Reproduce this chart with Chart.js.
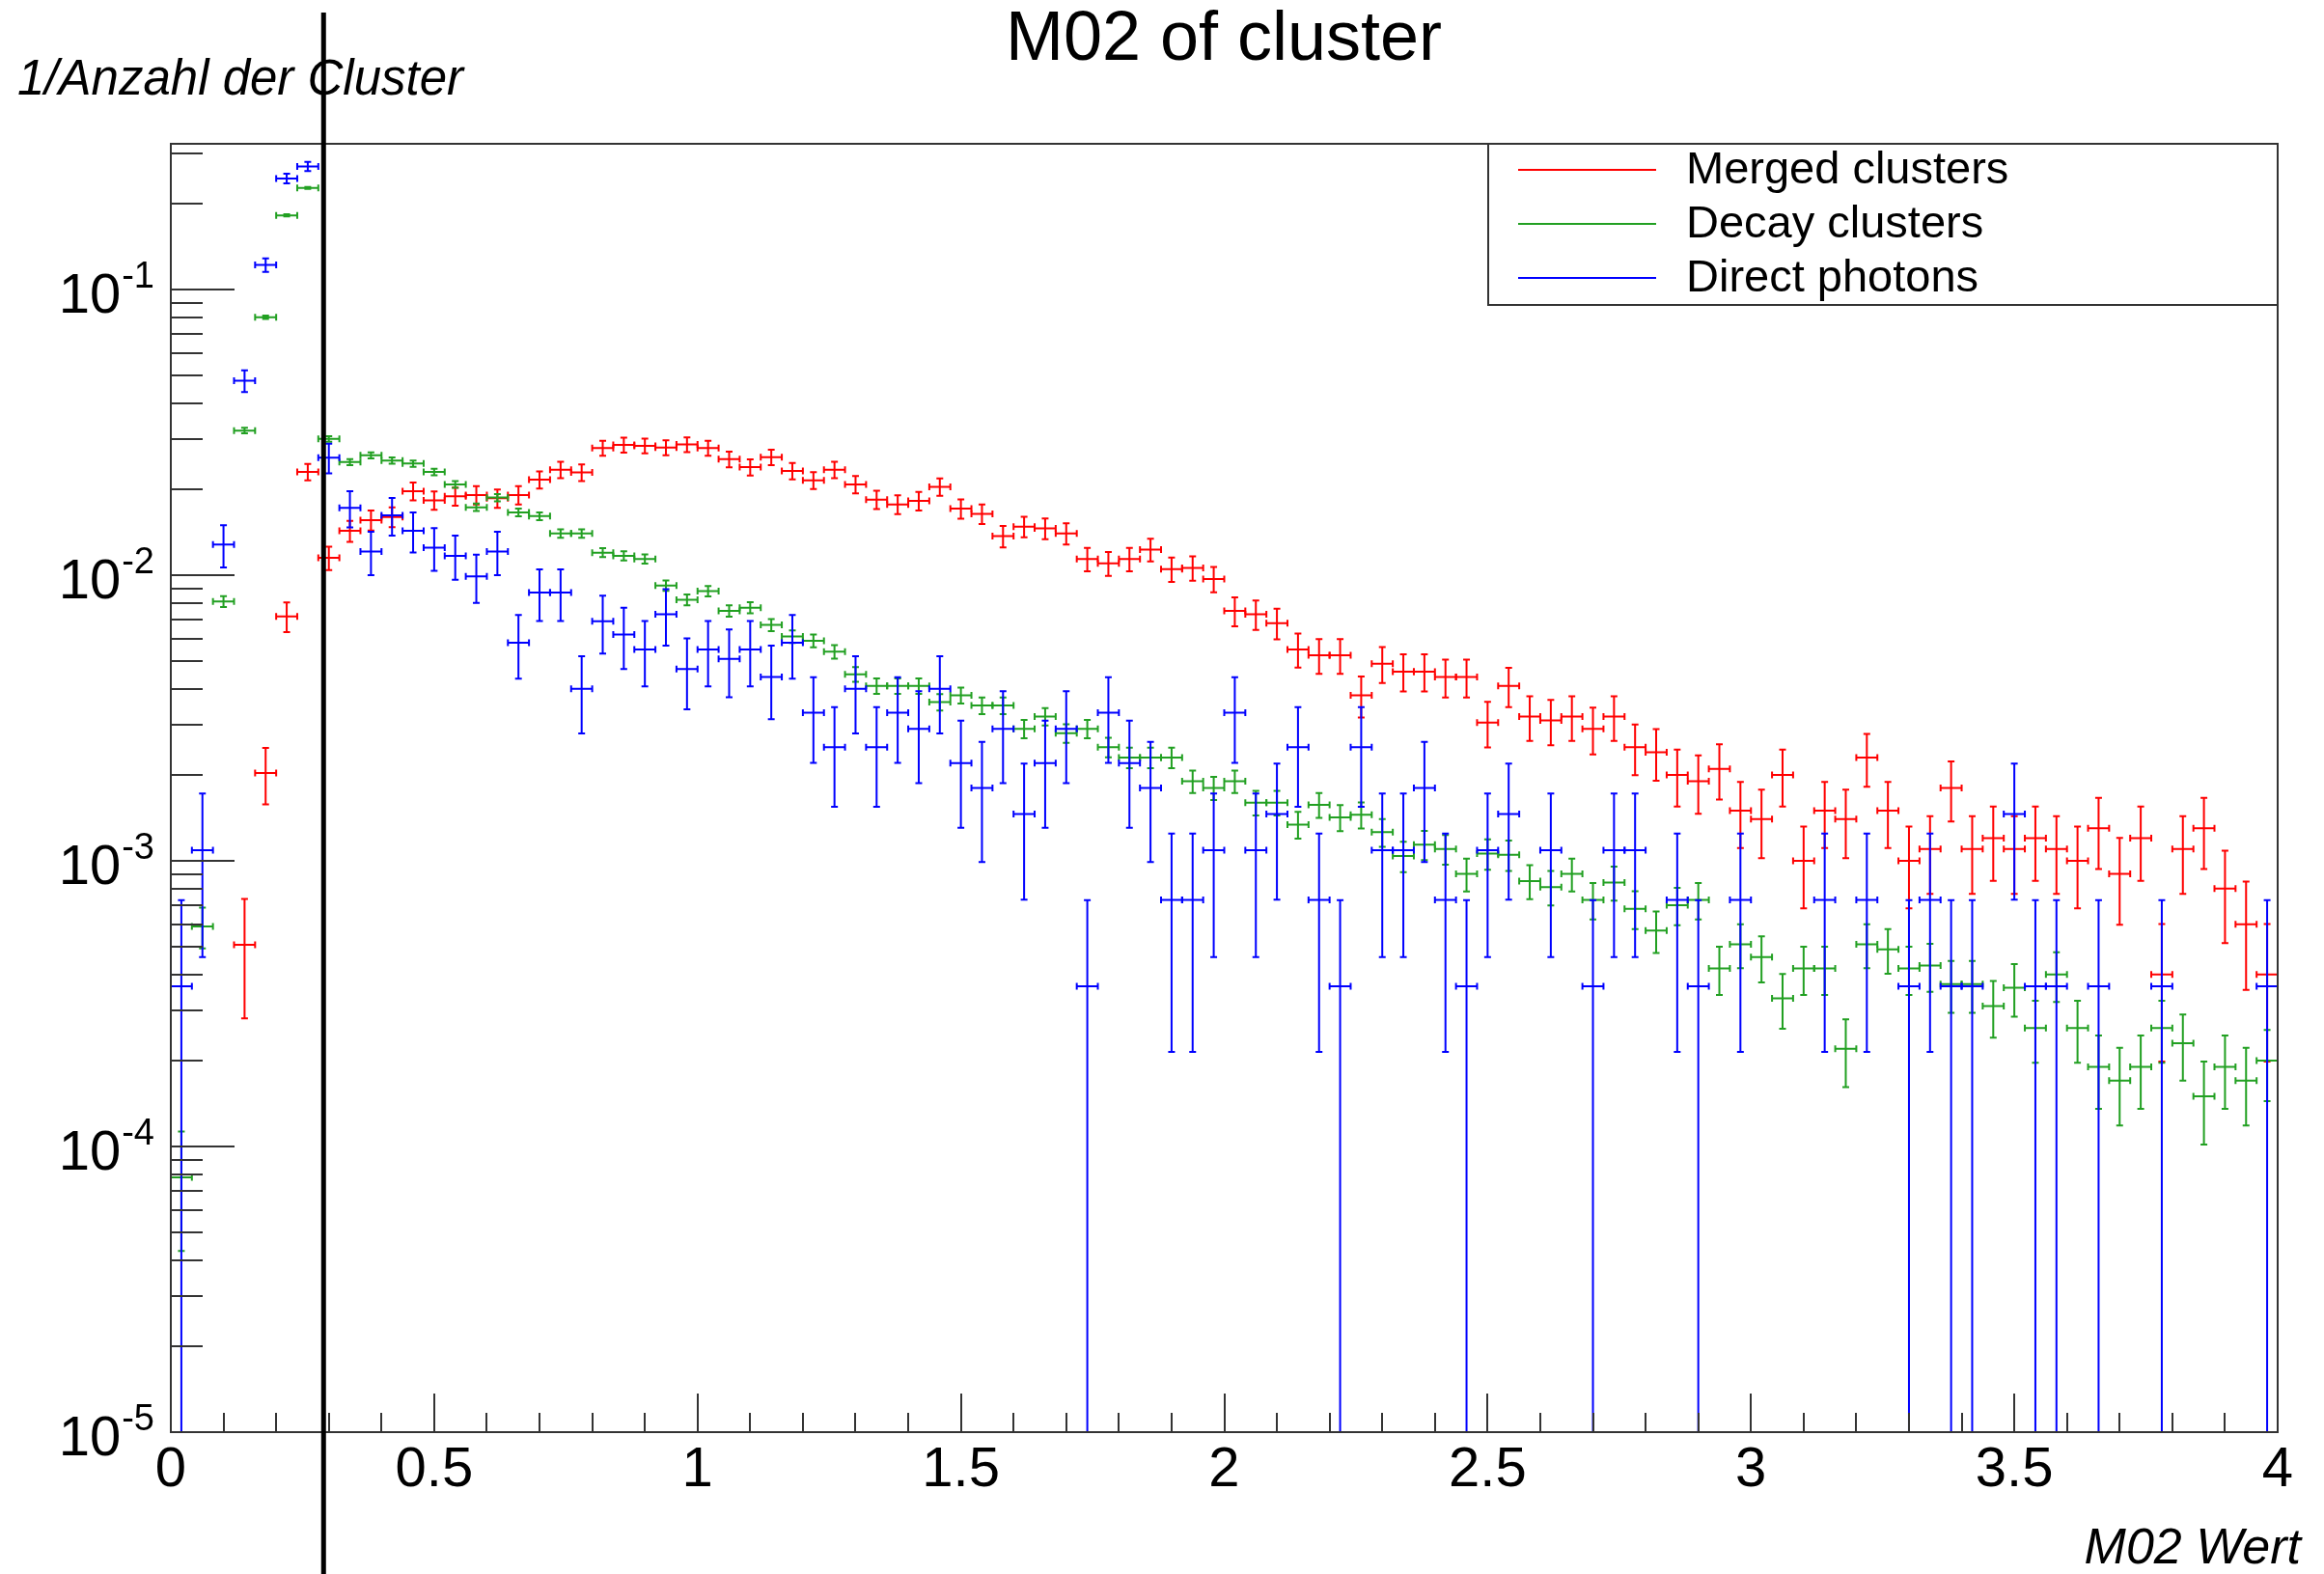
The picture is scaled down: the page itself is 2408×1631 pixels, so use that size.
<!DOCTYPE html>
<html><head><meta charset="utf-8">
<script src="https://cdn.jsdelivr.net/npm/chart.js@4/dist/chart.umd.min.js"></script>
<style>html,body{margin:0;padding:0;background:#fff;}canvas{display:block;}</style>
</head><body>
<canvas id="c" width="2408" height="1631" style="width:2408px;height:1631px"></canvas>
<script>
// ---- data (bin centres of the M02 histogram, normalised contents) ----
const binCenters = [
0.02,0.06,0.10,0.14,0.18,0.22,0.26,0.30,0.34,0.38,
0.42,0.46,0.50,0.54,0.58,0.62,0.66,0.70,0.74,0.78,
0.82,0.86,0.90,0.94,0.98,1.02,1.06,1.10,1.14,1.18,
1.22,1.26,1.30,1.34,1.38,1.42,1.46,1.50,1.54,1.58,
1.62,1.66,1.70,1.74,1.78,1.82,1.86,1.90,1.94,1.98,
2.02,2.06,2.10,2.14,2.18,2.22,2.26,2.30,2.34,2.38,
2.42,2.46,2.50,2.54,2.58,2.62,2.66,2.70,2.74,2.78,
2.82,2.86,2.90,2.94,2.98,3.02,3.06,3.10,3.14,3.18,
3.22,3.26,3.30,3.34,3.38,3.42,3.46,3.50,3.54,3.58,
3.62,3.66,3.70,3.74,3.78,3.82,3.86,3.90,3.94,3.98];

const mergedClusters = [
null,null,null,0.000508,0.00203,0.00718,0.0230,0.0115,0.0143,0.0156,
0.0160,0.0197,0.0183,0.0189,0.0191,0.0186,0.0191,0.0216,0.0234,0.0229,
0.0279,0.0286,0.0284,0.0280,0.0287,0.0279,0.0255,0.0239,0.0259,0.0232,
0.0215,0.0234,0.0208,0.0184,0.0177,0.0182,0.0204,0.0171,0.0164,0.0137,
0.0148,0.0146,0.0140,0.0114,0.0110,0.0114,0.0123,0.0105,0.0106,0.0097,
0.0075,0.0073,0.0068,0.0055,0.00525,0.00525,0.0038,0.0049,0.0046,0.0046,
0.0044,0.0044,0.00305,0.0041,0.0032,0.0031,0.0032,0.0029,0.0032,0.0025,
0.0024,0.0020,0.0019,0.0021,0.0015,0.0014,0.0020,0.0010,0.0015,0.0014,
0.0023,0.0015,0.0010,0.0011,0.0018,0.0011,0.0012,0.0011,0.0012,0.0011,
0.0010,0.0013,0.0009,0.0012,0.0004,0.0011,0.0013,0.0008,0.0006,0.0004];

const decayClusters = [
0.000078,0.00059,0.0081,0.0321,0.080,0.182,0.227,0.0300,0.0249,0.0263,
0.0252,0.0246,0.0230,0.0208,0.0173,0.0187,0.0166,0.0161,0.0140,0.0140,
0.0120,0.0117,0.0114,0.0092,0.0082,0.0088,0.0075,0.0077,0.0067,0.0061,
0.0059,0.0054,0.0045,0.0041,0.0041,0.0041,0.0036,0.0038,0.0035,0.0035,
0.0029,0.0032,0.0028,0.0029,0.0025,0.0023,0.0023,0.0023,0.0019,0.0018,
0.0019,0.0016,0.0016,0.00134,0.00157,0.00142,0.00145,0.00126,0.00104,0.00114,
0.00110,0.00090,0.00106,0.00105,0.00085,0.00081,0.00090,0.00073,0.00084,0.00068,
0.00057,0.00070,0.00073,0.00042,0.00051,0.00046,0.00033,0.00042,0.00042,0.00022,
0.00051,0.00049,0.00042,0.00043,0.00037,0.00037,0.00031,0.00036,0.00026,0.00040,
0.00026,0.00019,0.00017,0.00019,0.00026,0.00023,0.00015,0.00019,0.00017,0.00020];

const directPhotons = [
0.000364,0.00109,0.0128,0.048,0.122,0.245,0.270,0.0258,0.0172,0.0121,
0.0162,0.0143,0.0125,0.0117,0.0099,0.0121,0.0058,0.0087,0.0087,0.0040,
0.0069,0.0062,0.0055,0.0073,0.0047,0.0055,0.0051,0.0055,0.0044,0.0058,
0.0033,0.0025,0.0040,0.0025,0.0033,0.0029,0.0040,0.0022,0.0018,0.0029,
0.00146,0.0022,0.0029,0.000364,0.0033,0.0022,0.0018,0.00073,0.00073,0.00109,
0.0033,0.00109,0.00146,0.0025,0.00073,0.000364,0.0025,0.00109,0.00109,0.0018,
0.00073,0.000364,0.00109,0.00146,null,0.00109,null,0.000364,0.00109,0.00109,
null,0.00073,0.000364,null,0.00073,null,null,null,0.00073,null,
0.00073,null,0.000364,0.00073,0.000364,0.000364,null,0.00146,0.000364,0.000364,
null,0.000364,null,null,0.000364,null,null,null,null,0.000364];

const seriesLabels  = ['Merged clusters', 'Decay clusters', 'Direct photons'];
const seriesEntries = [9850, 64000, 2747];   // entries used for the Poisson error bars
const xTickLabels = ['0','0.5','1','1.5','2','2.5','3','3.5','4'];
const yTickExponents = [-5, -4, -3, -2, -1];
const cutValue = 0.29;
const chartTitle = 'M02 of cluster';
const xTitle = 'M02 Wert';
const yTitle = '1/Anzahl der Cluster';

// ---- styling ----
const COLORS = ['#ff0000', '#22a022', '#0000ff'];
const FONT = '"Liberation Sans", Arial, Helvetica, sans-serif';
const halfBin = (binCenters[1] - binCenters[0]) / 2;

function toPoints(vals) { return binCenters.map((c, i) => ({x: c, y: vals[i]})); }

const rootStyle = {
  id: 'rootStyle',
  afterDatasetsDraw(chart) {
    const ctx = chart.ctx, a = chart.chartArea;
    const xs = chart.scales.x, ys = chart.scales.y;
    ctx.save();
    // --- error bars (histogram "E1" style) ---
    ctx.save();
    ctx.beginPath(); ctx.rect(a.left, a.top, a.right - a.left, a.bottom - a.top); ctx.clip();
    const cap = 3.5;
    chart.data.datasets.forEach(ds => {
      ctx.strokeStyle = ds.borderColor; ctx.lineWidth = 2; ctx.lineCap = 'butt';
      ds.data.forEach(p => {
        if (p.y == null) return;
        const err = Math.sqrt(p.y / ds.entries);
        const px = xs.getPixelForValue(p.x), py = ys.getPixelForValue(p.y);
        const xl = xs.getPixelForValue(p.x - halfBin), xr = xs.getPixelForValue(p.x + halfBin);
        const yt = ys.getPixelForValue(p.y + err);
        const lo = p.y - err;
        const clipped = !(lo > ys.min);
        const yb = clipped ? a.bottom + 2 : ys.getPixelForValue(lo);
        ctx.beginPath();
        ctx.moveTo(xl, py); ctx.lineTo(xr, py);
        ctx.moveTo(px, yt); ctx.lineTo(px, yb);
        ctx.moveTo(xl, py - cap); ctx.lineTo(xl, py + cap);
        ctx.moveTo(xr, py - cap); ctx.lineTo(xr, py + cap);
        ctx.moveTo(px - cap, yt); ctx.lineTo(px + cap, yt);
        if (!clipped) { ctx.moveTo(px - cap, yb); ctx.lineTo(px + cap, yb); }
        ctx.stroke();
      });
    });
    ctx.restore();

    // --- frame ---
    ctx.strokeStyle = '#333'; ctx.lineWidth = 2;
    ctx.strokeRect(a.left, a.top, a.right - a.left, a.bottom - a.top);

    // --- y ticks (log) ---
    ctx.strokeStyle = '#333'; ctx.lineWidth = 2;
    ctx.beginPath();
    yTickExponents.forEach(e => {
      for (let m = 1; m <= 9; m++) {
        const v = m * Math.pow(10, e);
        if (v < ys.min || v > ys.max) continue;
        const py = Math.round(ys.getPixelForValue(v));
        const len = m === 1 ? 66 : 33;
        ctx.moveTo(a.left, py); ctx.lineTo(a.left + len, py);
      }
    });
    // --- x ticks ---
    const xMajor = xTickLabels.map(Number);
    for (let k = 0; k <= 40; k++) {
      const v = k / 10;
      const isMajor = xMajor.some(m => Math.abs(m - v) < 1e-9);
      const px = Math.round(xs.getPixelForValue(v));
      ctx.moveTo(px, a.bottom); ctx.lineTo(px, a.bottom - (isMajor ? 40 : 20));
    }
    ctx.stroke();

    // --- x tick labels ---
    ctx.fillStyle = '#000';
    ctx.font = '58px ' + FONT;
    ctx.textAlign = 'center'; ctx.textBaseline = 'alphabetic';
    xTickLabels.forEach(t => {
      ctx.fillText(t, xs.getPixelForValue(Number(t)), 1540);
    });

    // --- y tick labels 10^e ---
    yTickExponents.forEach(e => {
      const py = ys.getPixelForValue(Math.pow(10, e));
      const sup = '-' + Math.abs(e);
      ctx.font = '38px ' + FONT;
      const sw = ctx.measureText(sup).width;
      ctx.textAlign = 'right';
      ctx.fillText(sup, 160, py - 2);
      ctx.font = '58px ' + FONT;
      ctx.fillText('10', 160 - sw - 1, py + 24);
    });

    // --- axis titles ---
    ctx.font = 'italic 51px ' + FONT;
    ctx.textAlign = 'left';
    ctx.fillText(yTitle, 18, 98);
    ctx.textAlign = 'right';
    ctx.font = 'italic 52px ' + FONT;
    ctx.fillText(xTitle, 2384, 1620);

    // --- title ---
    ctx.font = '72px ' + FONT;
    ctx.textAlign = 'center';
    ctx.fillText(chartTitle, 1268, 62);

    // --- legend ---
    const lx0 = 1542, ly0 = a.top, lx1 = a.right, ly1 = 316;
    ctx.fillStyle = '#fff';
    ctx.fillRect(lx0, ly0, lx1 - lx0, ly1 - ly0);
    ctx.strokeStyle = '#333'; ctx.lineWidth = 2;
    ctx.strokeRect(lx0, ly0, lx1 - lx0, ly1 - ly0);
    ctx.font = '47px ' + FONT;
    ctx.textAlign = 'left'; ctx.textBaseline = 'middle';
    chart.data.datasets.forEach((ds, i) => {
      const yy = 176 + i * 56;
      ctx.strokeStyle = ds.borderColor; ctx.lineWidth = 2;
      ctx.beginPath(); ctx.moveTo(1573, yy); ctx.lineTo(1716, yy); ctx.stroke();
      ctx.fillStyle = '#000';
      ctx.fillText(ds.label, 1747, yy + 1);
    });

    // --- vertical cut line ---
    const cx = xs.getPixelForValue(cutValue);
    ctx.strokeStyle = '#000'; ctx.lineWidth = 5;
    ctx.beginPath(); ctx.moveTo(cx, 13); ctx.lineTo(cx, chart.height); ctx.stroke();
    ctx.restore();
  }
};

const datasets = [mergedClusters, decayClusters, directPhotons].map((vals, i) => ({
  label: seriesLabels[i],
  data: toPoints(vals),
  entries: seriesEntries[i],
  borderColor: COLORS[i],
  backgroundColor: COLORS[i],
  pointRadius: 0,
  showLine: false
}));

new Chart(document.getElementById('c'), {
  type: 'scatter',
  data: { datasets },
  options: {
    responsive: false,
    animation: false,
    devicePixelRatio: 1,
    layout: { padding: { left: 177, right: 48, top: 149, bottom: 147 } },
    scales: {
      x: { type: 'linear', min: 0, max: 4, display: false },
      y: { type: 'logarithmic', min: 1e-5, max: 0.324, display: false }
    },
    plugins: { legend: { display: false }, title: { display: false }, tooltip: { enabled: false } }
  },
  plugins: [rootStyle]
});
</script>
</body></html>
